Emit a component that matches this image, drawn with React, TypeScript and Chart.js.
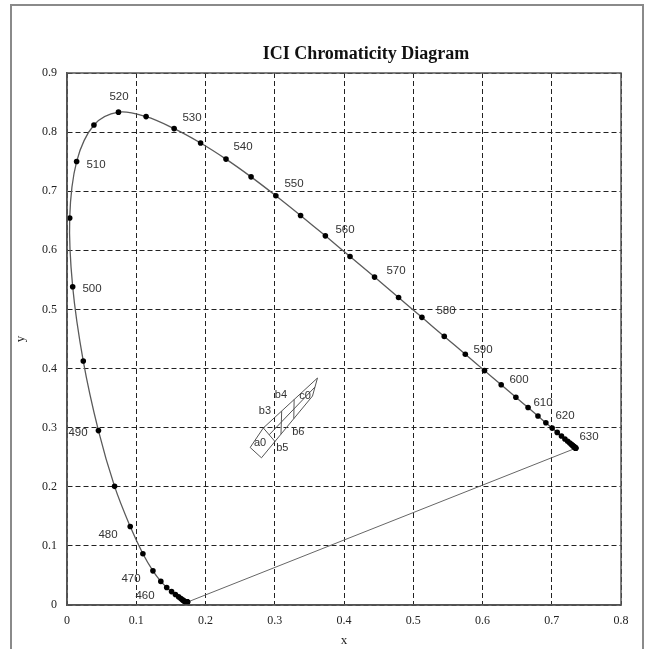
import React, { useEffect, useRef } from "react";
import { Chart, registerables } from "chart.js";

Chart.register(...registerables);

// Spectral locus (CIE 1931), 380–700 nm every 5 nm
const locusX = [0.1741, 0.174, 0.1738, 0.1736, 0.1733, 0.173, 0.1726, 0.1721, 0.1714, 0.1703, 0.1689, 0.1669, 0.1644, 0.1611, 0.1566, 0.151,
  0.144, 0.1355, 0.1241, 0.1096, 0.0913, 0.0687, 0.0454, 0.0235, 0.0082, 0.0039, 0.0139, 0.0389, 0.0743, 0.1142, 0.1547, 0.1929, 0.2296, 0.2658, 0.3016, 0.3373,
  0.3731, 0.4087, 0.4441, 0.4788, 0.5125, 0.5448, 0.5752, 0.6029, 0.627, 0.6482, 0.6658, 0.6801, 0.6915, 0.7006, 0.7079, 0.714, 0.719, 0.723, 0.726, 0.7283,
  0.73, 0.7311, 0.732, 0.7327, 0.7334, 0.734, 0.7344, 0.7346, 0.7347];
const locusY = [0.005, 0.005, 0.0049, 0.0049, 0.0048, 0.0048, 0.0048, 0.0048, 0.0051, 0.0058, 0.0069, 0.0086, 0.0109, 0.0138, 0.0177, 0.0227,
  0.0297, 0.0399, 0.0578, 0.0868, 0.1327, 0.2007, 0.295, 0.4127, 0.5384, 0.6548, 0.7502, 0.812, 0.8338, 0.8262, 0.8059, 0.7816, 0.7543, 0.7243, 0.6923, 0.6589,
  0.6245, 0.5896, 0.5547, 0.5202, 0.4866, 0.4544, 0.4242, 0.3965, 0.3725, 0.3514, 0.334, 0.3197, 0.3083, 0.2993, 0.292, 0.2859, 0.2809, 0.277, 0.274, 0.2717,
  0.27, 0.2689, 0.268, 0.2673, 0.2666, 0.266, 0.2656, 0.2654, 0.2653];

// Wavelength labels and where they sit (data coordinates)
const waveLabels = ["460", "470", "480", "490", "500", "510", "520", "530", "540", "550", "560", "570", "580", "590", "600", "610", "620", "630"];
const waveLabelX = [0.1126, 0.0924, 0.0592, 0.0159, 0.0361, 0.0419, 0.0751, 0.1805, 0.2542, 0.3278, 0.4014, 0.4751, 0.5473, 0.6007, 0.6527, 0.6874, 0.7191, 0.7538];
const waveLabelY = [0.0152, 0.0439, 0.1182, 0.2905, 0.5353, 0.7447, 0.8595, 0.824, 0.775, 0.7126, 0.6349, 0.5657, 0.4981, 0.4322, 0.3816, 0.3428, 0.3208, 0.2837];

// Small region shape
const outlineX = [0.2645, 0.2808, 0.3545, 0.3617, 0.2835, 0.2645];
const outlineY = [0.2665, 0.249, 0.3535, 0.384, 0.2995, 0.2665];
const dividerX = [0.2835, 0.3004];
const dividerY = [0.2995, 0.2765];
const midLineX = [0.292, 0.3581];
const midLineY = [0.288, 0.3688];
const cross1X = [0.31, 0.309];
const cross1Y = [0.3281, 0.289];
const cross2X = [0.328, 0.3275];
const cross2Y = [0.3476, 0.3152];
const shapeLabels = ["a0", "b3", "b4", "c0", "b6", "b5"];
const shapeLabelX = [0.2787, 0.2859, 0.309, 0.3437, 0.334, 0.3109];
const shapeLabelY = [0.2741, 0.3288, 0.3551, 0.3529, 0.2921, 0.2651];

const xTickLabels = ["0", "0.1", "0.2", "0.3", "0.4", "0.5", "0.6", "0.7", "0.8"];
const yTickLabels = ["0", "0.1", "0.2", "0.3", "0.4", "0.5", "0.6", "0.7", "0.8", "0.9"];
const titleText = "ICI Chromaticity Diagram";

const pts = (xs: number[], ys: number[]) => xs.map((x, i) => ({ x, y: ys[i] }));

const decorPlugin = {
  id: "decor",
  afterDraw(chart: any) {
    const { ctx, chartArea, scales } = chart;
    const xs = scales.x;
    const ys = scales.y;
    ctx.save();
    // plot frame
    ctx.strokeStyle = "#555";
    ctx.lineWidth = 1.5;
    ctx.setLineDash([]);
    ctx.strokeRect(chartArea.left, chartArea.top, chartArea.right - chartArea.left, chartArea.bottom - chartArea.top);
    // outer frame
    ctx.strokeStyle = "#8a8a8a";
    ctx.lineWidth = 2;
    ctx.strokeRect(11, 5, 632, 660);
    // title
    ctx.fillStyle = "#111";
    ctx.font = "bold 18px 'Liberation Serif'";
    ctx.textAlign = "center";
    ctx.textBaseline = "middle";
    ctx.fillText(titleText, 366, 54);
    // wavelength labels
    ctx.font = "11.5px 'Liberation Sans'";
    ctx.fillStyle = "#333";
    waveLabels.forEach((t, i) => {
      ctx.fillText(t, xs.getPixelForValue(waveLabelX[i]), ys.getPixelForValue(waveLabelY[i]));
    });
    ctx.font = "11px 'Liberation Sans'";
    shapeLabels.forEach((t, i) => {
      ctx.fillText(t, xs.getPixelForValue(shapeLabelX[i]), ys.getPixelForValue(shapeLabelY[i]));
    });
    ctx.restore();
  },
};

export default function App() {
  const ref = useRef<HTMLCanvasElement>(null);
  useEffect(() => {
    if (!ref.current) return;
    const lineDs = (xs: number[], ys: number[], color: string, w: number) => ({
      data: pts(xs, ys),
      showLine: true,
      borderColor: color,
      borderWidth: w,
      pointRadius: 0,
      tension: 0,
    });
    const chart = new Chart(ref.current, {
      type: "scatter",
      data: {
        datasets: [
          {
            data: pts(locusX, locusY),
            showLine: true,
            borderColor: "#5a5a5a",
            borderWidth: 1.3,
            tension: 0.35,
            pointRadius: 2.8,
            pointBackgroundColor: "#000",
            pointBorderColor: "#000",
            pointBorderWidth: 0,
          } as any,
          lineDs([locusX[0], locusX[locusX.length - 1]], [locusY[0], locusY[locusY.length - 1]], "#666", 1),
          lineDs(outlineX, outlineY, "#555", 1),
          lineDs(dividerX, dividerY, "#555", 1),
          lineDs(midLineX, midLineY, "#555", 1),
          lineDs(cross1X, cross1Y, "#555", 1),
          lineDs(cross2X, cross2Y, "#555", 1),
        ],
      },
      options: {
        animation: false,
        responsive: false,
        layout: { padding: { top: 73, right: 30, left: 0, bottom: 0 } },
        plugins: { legend: { display: false }, tooltip: { enabled: false }, title: { display: false } },
        scales: {
          x: {
            type: "linear",
            min: 0,
            max: 0.8,
            ticks: {
              stepSize: 0.1,
              padding: 9,
              color: "#222",
              font: { family: "'Liberation Serif'", size: 12 },
              maxRotation: 0,
              callback: (_v: any, i: number) => xTickLabels[i],
            },
            grid: { color: "#222", lineWidth: 1, drawTicks: false },
            border: { display: true, color: "#555", width: 1.5, dash: [5, 3] },
            title: { display: true, text: "x", color: "#222", font: { family: "'Liberation Serif'", size: 13 }, padding: { top: 0, bottom: 1 } },
            afterFit: (s: any) => { s.height = 44; },
          },
          y: {
            type: "linear",
            min: 0,
            max: 0.9,
            ticks: {
              stepSize: 0.1,
              padding: 10,
              color: "#222",
              font: { family: "'Liberation Serif'", size: 12 },
              callback: (_v: any, i: number) => yTickLabels[i],
            },
            grid: { color: "#222", lineWidth: 1, drawTicks: false },
            border: { display: true, color: "#555", width: 1.5, dash: [5, 3] },
            title: { display: true, text: "y", color: "#222", font: { family: "'Liberation Serif'", size: 13 }, padding: { top: 13, bottom: 0 } },
            afterFit: (s: any) => { s.width = 67; },
          },
        },
      } as any,
      plugins: [decorPlugin],
    });
    return () => chart.destroy();
  }, []);
  return (
    <div style={{ position: "fixed", left: 0, top: 0, width: 651, height: 649, background: "#fff" }}>
      <canvas ref={ref} width={651} height={649} style={{ display: "block" }} />
    </div>
  );
}
